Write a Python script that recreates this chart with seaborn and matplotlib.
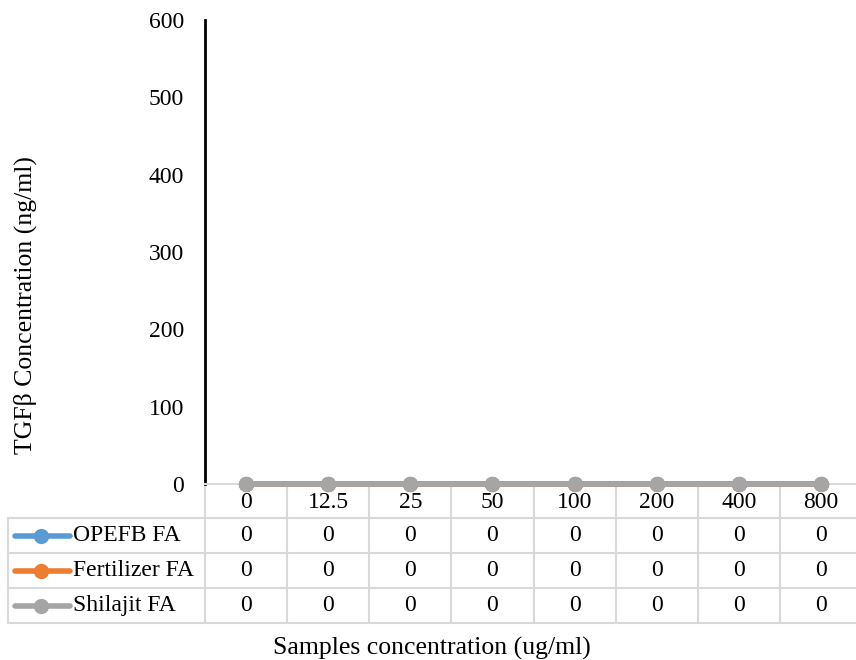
import matplotlib
matplotlib.use("Agg")
import matplotlib.pyplot as plt
import matplotlib.transforms as mtransforms
import pandas as pd
import seaborn as sns

concentrations = ["0", "12.5", "25", "50", "100", "200", "400", "800"]
opefb_fa = [0, 0, 0, 0, 0, 0, 0, 0]
fertilizer_fa = [0, 0, 0, 0, 0, 0, 0, 0]
shilajit_fa = [0, 0, 0, 0, 0, 0, 0, 0]
series_names = ["OPEFB FA", "Fertilizer FA", "Shilajit FA"]
y_ticks = [0, 100, 200, 300, 400, 500, 600]

colors = ["#5b9bd5", "#ed7d31", "#a5a5a5"]
grid_color = "#d9d9d9"

sns.set_theme(style="white")
plt.rcParams["font.family"] = ["Liberation Serif", "DejaVu Serif"]
plt.rcParams["text.color"] = "black"
plt.rcParams["xtick.color"] = "black"
plt.rcParams["ytick.color"] = "black"

W, H = 856, 660
fig = plt.figure(figsize=(W / 100, H / 100), dpi=100)

def fx(px):
    return px / W

def fy(py):
    return 1 - py / H

FS = 17
LBL = 18.5
ax_l, ax_r, ax_t, ax_b = 205, 862, 20, 484
ax = fig.add_axes([fx(ax_l), fy(ax_b), fx(ax_r - ax_l), fy(ax_t) - fy(ax_b)])

long = pd.DataFrame({
    "pos": list(range(len(concentrations))) * 3,
    "value": opefb_fa + fertilizer_fa + shilajit_fa,
    "series": sum([[n] * len(concentrations) for n in series_names], []),
})
sns.lineplot(data=long, x="pos", y="value", hue="series", palette=colors,
             hue_order=series_names, marker="o", markersize=11,
             markeredgewidth=0, linewidth=4, ax=ax, legend=False,
             clip_on=False, zorder=5)

ax.set_xlim(-0.5, len(concentrations) - 0.5)
ax.set_ylim(0, 600)
ax.set_yticks(y_ticks)
ax.set_yticklabels([str(v) for v in y_ticks], fontsize=FS)
ax.set_xticks(range(len(concentrations)))
ax.set_xticklabels(concentrations, fontsize=FS)
ax.tick_params(axis="x", length=0, pad=6)
ax.tick_params(axis="y", length=0, pad=15)
ax.set_xlabel("")
ax.set_ylabel("")
for side in ["top", "right"]:
    ax.spines[side].set_visible(False)
ax.spines["left"].set_color("black")
ax.spines["left"].set_linewidth(2)
ax.spines["bottom"].set_color(grid_color)
ax.spines["bottom"].set_linewidth(1.5)

# data table under the plot: x in data units, y in figure fraction
trans = mtransforms.blended_transform_factory(ax.transData, fig.transFigure)
row_edges = [484, 518, 553, 588, 623]
n = len(concentrations)
for i in range(n + 1):
    ax.plot([i - 0.5, i - 0.5], [fy(row_edges[0]), fy(row_edges[-1])],
            transform=trans, color=grid_color, lw=1.5, clip_on=False)
for r in row_edges[1:]:
    fig.add_artist(plt.Line2D([fx(8), fx(ax_r)], [fy(r), fy(r)],
                              color=grid_color, lw=1.5))
fig.add_artist(plt.Line2D([fx(8), fx(8)], [fy(row_edges[1]), fy(row_edges[-1])],
                          color=grid_color, lw=1.5))

rows = [opefb_fa, fertilizer_fa, shilajit_fa]
for k, (name, vals, c) in enumerate(zip(series_names, rows, colors)):
    yc = fy((row_edges[k + 1] + row_edges[k + 2]) / 2)
    fig.add_artist(plt.Line2D([fx(15), fx(70)], [yc, yc], color=c, lw=4))
    fig.add_artist(plt.Line2D([fx(41)], [yc], color=c, marker="o",
                              markersize=11, markeredgewidth=0))
    fig.text(fx(73), yc, name, fontsize=FS, ha="left", va="center")
    for i, v in enumerate(vals):
        ax.text(i, yc, f"{v:g}", transform=trans, fontsize=FS,
                ha="center", va="center")

fig.text(fx(25), fy(305), "TGFβ Concentration (ng/ml)", rotation=90,
         fontsize=LBL, ha="center", va="center")
fig.text(fx(432), fy(648), "Samples concentration (ug/ml)", fontsize=LBL,
         ha="center", va="center")

fig.savefig("out.png", dpi=100)
